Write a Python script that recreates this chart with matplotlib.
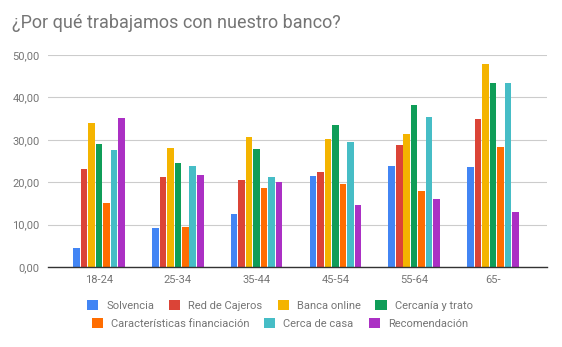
import matplotlib
matplotlib.use("Agg")
import matplotlib.pyplot as plt
import numpy as np

plt.rcParams["font.family"] = ["Roboto", "DejaVu Sans"]

GROUPS = ["18-24", "25-34", "35-44", "45-54", "55-64", "65-"]
SERIES = ["Solvencia", "Red de Cajeros", "Banca online", "Cercanía y trato",
          "Características financiación", "Cerca de casa", "Recomendación"]
COLORS = ["#4285f4", "#db4437", "#f4b400", "#0f9d58", "#ff6d01", "#46bdc6", "#ab30c4"]

solvencia = [4.6, 9.2, 12.6, 21.5, 23.9, 23.7]
cajeros = [23.1, 21.3, 20.6, 22.4, 28.7, 34.8]
online = [33.9, 28.0, 30.7, 30.2, 31.3, 47.8]
cercania = [29.1, 24.6, 27.8, 33.6, 38.1, 43.5]
financiacion = [15.2, 9.4, 18.7, 19.5, 18.0, 28.2]
cerca_casa = [27.6, 23.9, 21.3, 29.6, 35.4, 43.5]
recomendacion = [35.2, 21.6, 20.0, 14.6, 16.1, 13.0]
VALUES = [solvencia, cajeros, online, cercania, financiacion, cerca_casa, recomendacion]

YTICKS = [0, 10, 20, 30, 40, 50]
GRAY = "#757575"

fig = plt.figure(figsize=(5.62, 3.47), dpi=100)
ax = fig.add_axes([0.0854, 0.2305, 0.8879, 0.611])

x = np.arange(len(GROUPS))
slot = 0.095
width = 0.083
for i, (name, vals, col) in enumerate(zip(SERIES, VALUES, COLORS)):
  ax.bar(x + (i - 3) * slot, vals, width=width, color=col, label=name, zorder=3)

ax.set_xlim(-0.647, 5.685)
ax.set_ylim(0, 50)
ax.set_yticks(YTICKS)
ax.set_yticklabels([f"{v:.2f}".replace(".", ",") for v in YTICKS])
ax.set_xticks(x)
ax.set_xticklabels(GROUPS)
ax.tick_params(axis="both", length=0, labelsize=8, colors=GRAY, pad=6)
ax.grid(axis="y", color="#cccccc", lw=0.8, zorder=0)
for s in ["top", "right", "left"]:
  ax.spines[s].set_visible(False)
ax.spines["bottom"].set_color("#333333")
ax.spines["bottom"].set_linewidth(1.0)
ax.spines["bottom"].set_zorder(4)

fig.text(0.021, 0.935, "¿Por qué trabajamos con nuestro banco?",
         fontsize=13, color=GRAY, va="center", ha="left")

h, l = ax.get_legend_handles_labels()
leg_kw = dict(loc="center", frameon=False, fontsize=8, handlelength=1.0,
              handleheight=1.0, columnspacing=1.35, handletextpad=0.72,
              labelcolor=GRAY)
fig.legend(h[:4], l[:4], bbox_to_anchor=(0.498, 0.119), ncol=4, **leg_kw)
fig.legend(h[4:], l[4:], bbox_to_anchor=(0.498, 0.068), ncol=3, **leg_kw)

fig.savefig("out.png", dpi=100)
